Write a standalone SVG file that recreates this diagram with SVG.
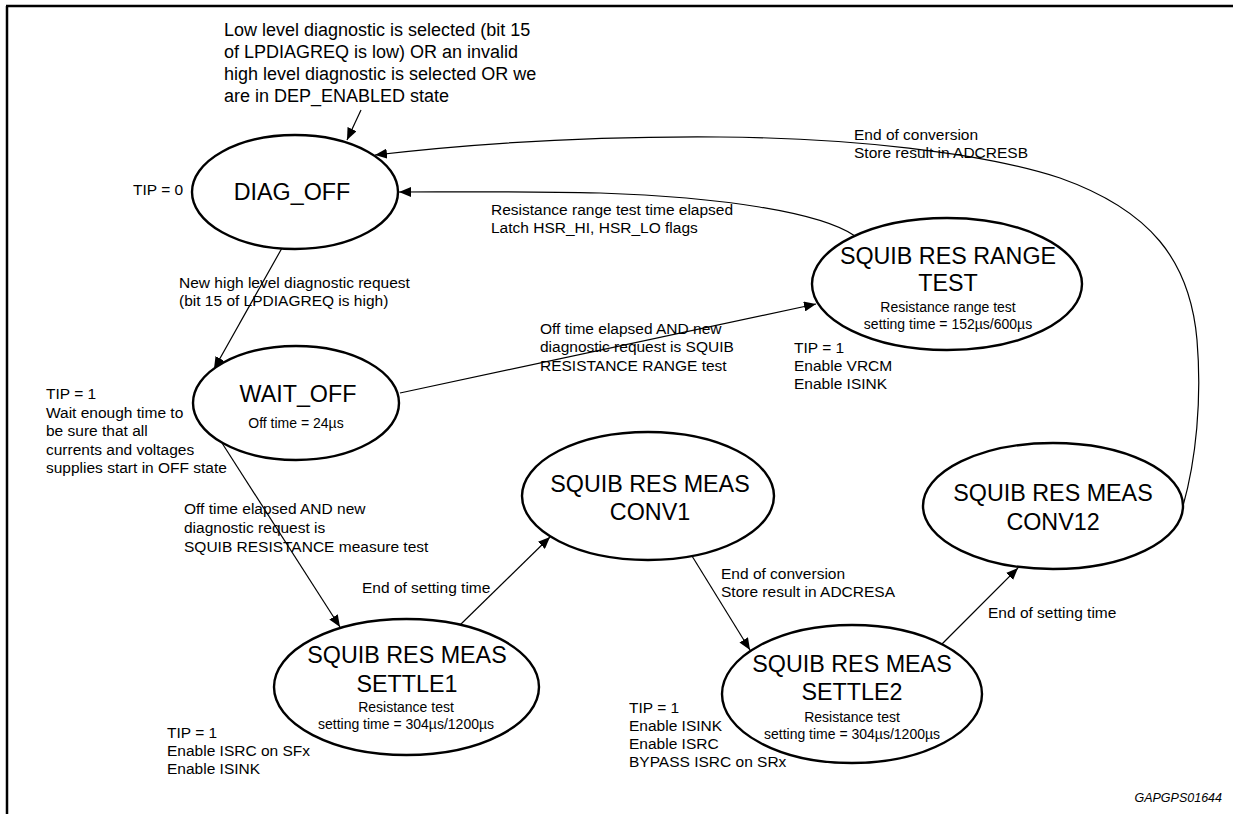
<svg xmlns="http://www.w3.org/2000/svg" width="1233" height="814" viewBox="0 0 1233 814">
<style>
text{font-family:"Liberation Sans",Arial,Helvetica,sans-serif;fill:#000}
.st{font-size:23.3px;text-anchor:middle}
.sub{font-size:14px;text-anchor:middle}
.lb{font-size:15.5px}
.big{font-size:18px}
.node ellipse{fill:#fff;stroke:#000;stroke-width:2.4}
.cn path,.cn line{fill:none;stroke:#000;stroke-width:1.2;marker-end:url(#ah)}
.frame{stroke:#000;stroke-width:2.5;fill:none}
</style>
<defs>
<marker id="ah" viewBox="0 0 12 10" refX="12" refY="5" markerWidth="12" markerHeight="10" markerUnits="userSpaceOnUse" orient="auto">
<path d="M0,0 L12,5 L0,10 Z" fill="#000"/>
</marker>
</defs>
<rect width="1233" height="814" fill="#fff"/>
<g id="frame">
<line class="frame" x1="7" y1="6" x2="7" y2="814"/>
<line class="frame" x1="6" y1="6" x2="1233" y2="6"/>
</g>

<g id="connectors" class="cn">
<line x1="361" y1="110" x2="347" y2="140"/>
<path d="M1183,506 C1196,460 1202,400 1197,340 C1190,260 1150,210 1060,178 C980,152 850,138 720,137 C580,136 460,145 375,155"/>
<path d="M855,236 C820,212 720,197 600,193 C520,191 450,192 399,192"/>
<line x1="282" y1="248" x2="214" y2="369"/>
<line x1="400" y1="393" x2="816" y2="304"/>
<line x1="222" y1="443" x2="340" y2="627"/>
<line x1="460" y1="625" x2="550" y2="537"/>
<line x1="692" y1="556" x2="750" y2="650"/>
<line x1="942" y1="644" x2="1018" y2="568"/>
</g>

<g id="diag_off" class="node">
<ellipse cx="295" cy="192" rx="103" ry="57"/>
<text class="st" x="292" y="200">DIAG_OFF</text>
</g>
<g id="wait_off" class="node">
<ellipse cx="296" cy="403" rx="103" ry="57"/>
<text class="st" x="298" y="402">WAIT_OFF</text>
<text class="sub" x="296" y="428">Off time = 24µs</text>
</g>
<g id="range_test" class="node">
<ellipse cx="947" cy="284" rx="135" ry="66"/>
<text class="st" x="948" y="264">SQUIB RES RANGE</text>
<text class="st" x="948" y="291">TEST</text>
<text class="sub" x="948" y="312">Resistance range test</text>
<text class="sub" x="948" y="329">setting time = 152µs/600µs</text>
</g>
<g id="settle1" class="node">
<ellipse cx="406.5" cy="687" rx="132.5" ry="68"/>
<text class="st" x="407" y="663">SQUIB RES MEAS</text>
<text class="st" x="407" y="692">SETTLE1</text>
<text class="sub" x="406" y="712">Resistance test</text>
<text class="sub" x="406" y="729">setting time = 304µs/1200µs</text>
</g>
<g id="conv1" class="node">
<ellipse cx="648" cy="496" rx="126" ry="64"/>
<text class="st" x="650" y="492">SQUIB RES MEAS</text>
<text class="st" x="650" y="520">CONV1</text>
</g>
<g id="settle2" class="node">
<ellipse cx="852" cy="694" rx="130" ry="69"/>
<text class="st" x="852" y="672">SQUIB RES MEAS</text>
<text class="st" x="852" y="700">SETTLE2</text>
<text class="sub" x="852" y="722">Resistance test</text>
<text class="sub" x="852" y="739">setting time = 304µs/1200µs</text>
</g>
<g id="conv12" class="node">
<ellipse cx="1053" cy="506" rx="130" ry="63"/>
<text class="st" x="1053" y="501">SQUIB RES MEAS</text>
<text class="st" x="1053" y="530">CONV12</text>
</g>

<g id="labels">
<text class="big" x="224" y="36">Low level diagnostic is selected (bit 15</text>
<text class="big" x="224" y="58">of LPDIAGREQ is low) OR an invalid</text>
<text class="big" x="224" y="80">high level diagnostic is selected OR we</text>
<text class="big" x="224" y="102">are in DEP_ENABLED state</text>
<text class="lb" x="133" y="195">TIP = 0</text>
<text class="lb" x="854" y="140">End of conversion</text>
<text class="lb" x="854" y="158">Store result in ADCRESB</text>
<text class="lb" x="491" y="215">Resistance range test time elapsed</text>
<text class="lb" x="491" y="233">Latch HSR_HI, HSR_LO flags</text>
<text class="lb" x="179" y="288">New high level diagnostic request</text>
<text class="lb" x="179" y="306">(bit 15 of LPDIAGREQ is high)</text>
<text class="lb" x="540" y="334">Off time elapsed AND new</text>
<text class="lb" x="540" y="352">diagnostic request is SQUIB</text>
<text class="lb" x="540" y="371">RESISTANCE RANGE test</text>
<text class="lb" x="794" y="353">TIP = 1</text>
<text class="lb" x="794" y="371">Enable VRCM</text>
<text class="lb" x="794" y="389">Enable ISINK</text>
<text class="lb" x="46" y="399">TIP = 1</text>
<text class="lb" x="46" y="417.5">Wait enough time to</text>
<text class="lb" x="46" y="436">be sure that all</text>
<text class="lb" x="46" y="454.5">currents and voltages</text>
<text class="lb" x="46" y="473">supplies start in OFF state</text>
<text class="lb" x="184" y="514">Off time elapsed AND new</text>
<text class="lb" x="184" y="533">diagnostic request is</text>
<text class="lb" x="184" y="552">SQUIB RESISTANCE measure test</text>
<text class="lb" x="362" y="593">End of setting time</text>
<text class="lb" x="721" y="579">End of conversion</text>
<text class="lb" x="721" y="597">Store result in ADCRESA</text>
<text class="lb" x="988" y="618">End of setting time</text>
<text class="lb" x="167" y="738">TIP = 1</text>
<text class="lb" x="167" y="756">Enable ISRC on SFx</text>
<text class="lb" x="167" y="774">Enable ISINK</text>
<text class="lb" x="629" y="713">TIP = 1</text>
<text class="lb" x="629" y="731">Enable ISINK</text>
<text class="lb" x="629" y="749">Enable ISRC</text>
<text class="lb" x="629" y="767">BYPASS ISRC on SRx</text>
<text x="1222" y="802" style="font-size:12.5px;font-style:italic;text-anchor:end">GAPGPS01644</text>
</g>
</svg>
